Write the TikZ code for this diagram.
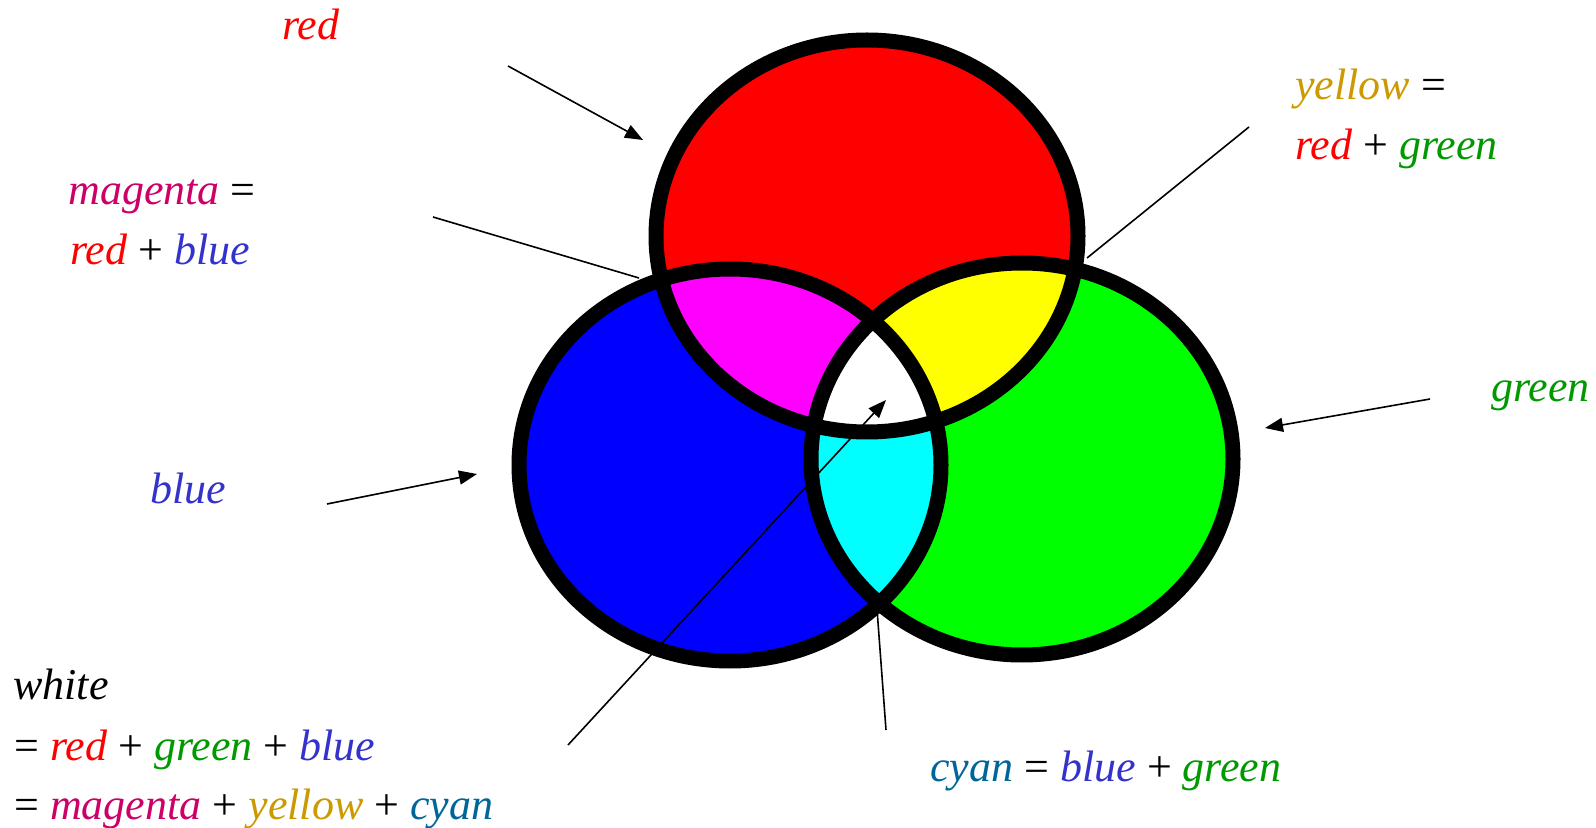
\documentclass[tikz,border=0pt]{standalone}
\usepackage{fontspec}
\setmainfont{Liberation Serif}
\usetikzlibrary{arrows.meta}
\definecolor{tred}{RGB}{255,0,0}
\definecolor{tmag}{RGB}{204,0,102}
\definecolor{tblue}{RGB}{51,51,204}
\definecolor{tgreen}{RGB}{0,153,0}
\definecolor{tyellow}{RGB}{204,153,0}
\definecolor{tcyan}{RGB}{0,102,153}
\definecolor{fred}{RGB}{255,0,0}
\definecolor{fblue}{RGB}{0,0,255}
\definecolor{fgreen}{RGB}{0,255,0}
\definecolor{fmag}{RGB}{255,0,255}
\definecolor{fyellow}{RGB}{255,255,0}
\definecolor{fcyan}{RGB}{0,255,255}
\newcommand\up[1]{{\upshape\color{black}#1}}
\begin{document}
\begin{tikzpicture}[x=0.5pt,y=-0.5pt,
  lbl/.style={anchor=base west,inner sep=0pt,font=\fontsize{22}{26}\selectfont\itshape},
  ring/.style={draw=black,line width=7.5pt},
  ptr/.style={line width=0.8pt,-{Triangle[length=9pt,width=7pt]}},
  lead/.style={line width=0.8pt}]
\useasboundingbox (0,0) rectangle (1596,828);
% centres
\coordinate (cR) at (867,236);
\coordinate (cB) at (730,465);
\coordinate (cG) at (1022,459);
\def\rx{211}\def\ry{196}
% base fills
\fill[fblue] (cB) ellipse [x radius=\rx, y radius=\ry];
\fill[fgreen] (cG) ellipse [x radius=\rx, y radius=\ry];
\fill[fred] (cR) ellipse [x radius=\rx, y radius=\ry];
% pairwise overlaps
\begin{scope}
  \clip (cR) ellipse [x radius=\rx, y radius=\ry];
  \fill[fmag] (cB) ellipse [x radius=\rx, y radius=\ry];
  \fill[fyellow] (cG) ellipse [x radius=\rx, y radius=\ry];
\end{scope}
\begin{scope}
  \clip (cB) ellipse [x radius=\rx, y radius=\ry];
  \fill[fcyan] (cG) ellipse [x radius=\rx, y radius=\ry];
  \clip (cR) ellipse [x radius=\rx, y radius=\ry];
  \fill[white] (cG) ellipse [x radius=\rx, y radius=\ry];
\end{scope}
% outlines
\draw[ring] (cR) ellipse [x radius=\rx, y radius=\ry];
\draw[ring] (cB) ellipse [x radius=\rx, y radius=\ry];
\draw[ring] (cG) ellipse [x radius=\rx, y radius=\ry];
% labels
\node[lbl,tred] (lred) at (282,40) {red};
\node[lbl] (lmag1) at (68,205) {\textcolor{tmag}{magenta} \up{=}};
\node[lbl] (lmag2) at (70,265) {\textcolor{tred}{red} \up{+} \textcolor{tblue}{blue}};
\node[lbl] (lyel1) at (1295,100) {\textcolor{tyellow}{yellow} \up{=}};
\node[lbl] (lyel2) at (1295,160) {\textcolor{tred}{red} \up{+} \textcolor{tgreen}{green}};
\node[lbl,tgreen] (lgreen) at (1491,402) {green};
\node[lbl,tblue] (lblue) at (150,503) {blue};
\node[lbl] (lw1) at (13,699) {white};
\node[lbl] (lw2) at (14,760) {\up{=} \textcolor{tred}{red} \up{+} \textcolor{tgreen}{green} \up{+} \textcolor{tblue}{blue}};
\node[lbl] (lw3) at (14,819) {\up{=} \textcolor{tmag}{magenta} \up{+} \textcolor{tyellow}{yellow} \up{+} \textcolor{tcyan}{cyan}};
\node[lbl] (lcyan) at (930,781) {\textcolor{tcyan}{cyan} \up{=} \textcolor{tblue}{blue} \up{+} \textcolor{tgreen}{green}};
% connector end points
\coordinate (aR0) at (508,66);   \coordinate (aR1) at (643,140);
\coordinate (aM0) at (433,217);  \coordinate (aM1) at (639,278);
\coordinate (aY0) at (1249,127); \coordinate (aY1) at (1087,258);
\coordinate (aG0) at (1430,399); \coordinate (aG1) at (1265,428);
\coordinate (aB0) at (327,504);  \coordinate (aB1) at (477,474);
\coordinate (aW0) at (568,745);  \coordinate (aW1) at (886,400);
\coordinate (aC0) at (886,730);  \coordinate (aC1) at (877,609);
% connectors
\draw[ptr] (aR0) -- (aR1);
\draw[lead] (aM0) -- (aM1);
\draw[lead] (aY0) -- (aY1);
\draw[ptr] (aG0) -- (aG1);
\draw[ptr] (aB0) -- (aB1);
\draw[ptr] (aW0) -- (aW1);
\draw[lead] (aC0) -- (aC1);
\end{tikzpicture}
\end{document}
